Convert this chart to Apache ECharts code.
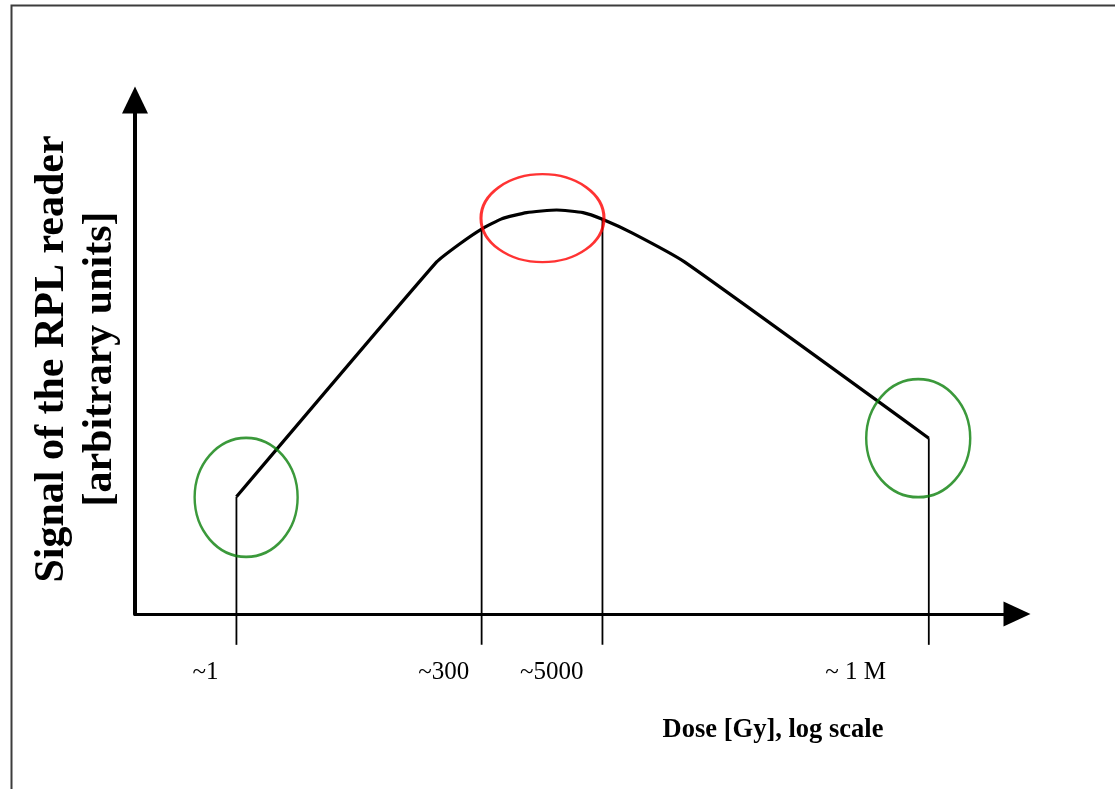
<!DOCTYPE html>
<html>
<head>
<meta charset="utf-8">
<title>RPL reader signal vs dose</title>
<script src="https://cdn.jsdelivr.net/npm/echarts@6/dist/echarts.min.js"></script>
<style>
  html, body { margin: 0; padding: 0; background: #fff; }
  #chart { width: 1115px; height: 789px; }
</style>
</head>
<body>
<div id="chart"></div>
<script>
// Schematic response curve: position along the (log) dose axis and reader signal, both in arbitrary units
const doseAxisPos = [11.5, 34.2, 36.8, 39.3, 41.6, 44.4, 47.8, 50.8, 53.0, 56.4, 62.3, 90.0];
const readerSignal = [22.8, 68.5, 72.0, 74.9, 76.9, 78.1, 78.6, 78.1, 76.8, 74.1, 68.5, 34.2];

// Reference doses marked by vertical drop lines (indices into the curve above)
const markedPointIdx = [0, 3, 8, 11];
const dropLineFloor = -6;

// Dose tick labels and their positions on the axis
const tickLabels = ['~1', '~300', '~5000', '~ 1 M'];
const tickLabelPos = [8.0, 35.0, 47.25, 81.7];

// Highlighted regions: centre (axis units), ellipse size and outline colour
const regionX = [12.6, 46.2, 88.8];
const regionY = [22.7, 77.0, 34.2];
const regionW = [103, 123, 104];
const regionH = [119, 88, 118];
const regionColor = ['#0a800a', '#ff0000', '#0a800a'];

const serif = '"Liberation Serif", "Times New Roman", serif';

const chart = echarts.init(document.getElementById('chart'), null, { renderer: 'canvas' });

const curveData = doseAxisPos.map((x, i) => [x, readerSignal[i]]);

const dropSeries = markedPointIdx.map((idx) => ({
  type: 'line',
  data: [[doseAxisPos[idx], readerSignal[idx]], [doseAxisPos[idx], dropLineFloor]],
  symbol: 'none',
  clip: false,
  silent: true,
  lineStyle: { color: '#000', width: 1.8 },
  z: 2
}));

const regionSeries = regionX.map((x, i) => ({
  type: 'scatter',
  data: [[x, regionY[i]]],
  symbol: 'circle',
  symbolSize: [regionW[i], regionH[i]],
  clip: false,
  silent: true,
  itemStyle: { color: 'rgba(0,0,0,0)', borderColor: regionColor[i], borderWidth: 2.6 },
  z: 4
}));

chart.setOption({
  animation: false,
  backgroundColor: '#fff',
  grid: { left: 135, top: 100, width: 882, height: 514, containLabel: false },
  xAxis: {
    type: 'value',
    min: 0,
    max: 100,
    axisLine: {
      show: true,
      onZero: false,
      symbol: ['none', 'triangle'],
      symbolSize: [25, 27],
      lineStyle: { color: '#000', width: 3 }
    },
    axisTick: { show: false },
    splitLine: { show: false },
    axisLabel: {
      show: true,
      customValues: tickLabelPos,
      formatter: (v) => {
        const k = tickLabelPos.indexOf(v);
        return k >= 0 ? tickLabels[k] : '';
      },
      margin: 46,
      color: '#000',
      fontFamily: serif,
      fontSize: 25
    }
  },
  yAxis: {
    type: 'value',
    min: 0,
    max: 100,
    axisLine: {
      show: true,
      onZero: false,
      symbol: ['none', 'triangle'],
      symbolSize: [26, 27],
      lineStyle: { color: '#000', width: 4 }
    },
    axisTick: { show: false },
    splitLine: { show: false },
    axisLabel: { show: false }
  },
  graphic: [
    {
      type: 'rect',
      shape: { x: 11.5, y: 5.5, width: 1300, height: 1000 },
      style: { fill: 'none', stroke: '#3c3c3c', lineWidth: 2 },
      silent: true,
      z: 0
    },
    {
      type: 'text',
      x: 76,
      y: 359,
      rotation: Math.PI / 2,
      style: {
        text: 'Signal of the RPL reader\n[arbitrary units]',
        font: 'bold 42px ' + serif,
        fill: '#000',
        align: 'center',
        verticalAlign: 'middle',
        lineHeight: 48
      },
      silent: true
    },
    {
      type: 'text',
      x: 773,
      y: 730,
      style: {
        text: 'Dose [Gy], log scale',
        font: 'bold 26.5px ' + serif,
        fill: '#000',
        align: 'center',
        verticalAlign: 'middle'
      },
      silent: true
    }
  ],
  series: [
    {
      type: 'line',
      data: curveData,
      symbol: 'none',
      smooth: 0.15,
      clip: false,
      silent: true,
      lineStyle: { color: '#000', width: 3.2, join: 'round' },
      z: 3
    },
    ...dropSeries,
    ...regionSeries
  ]
});
</script>
</body>
</html>
